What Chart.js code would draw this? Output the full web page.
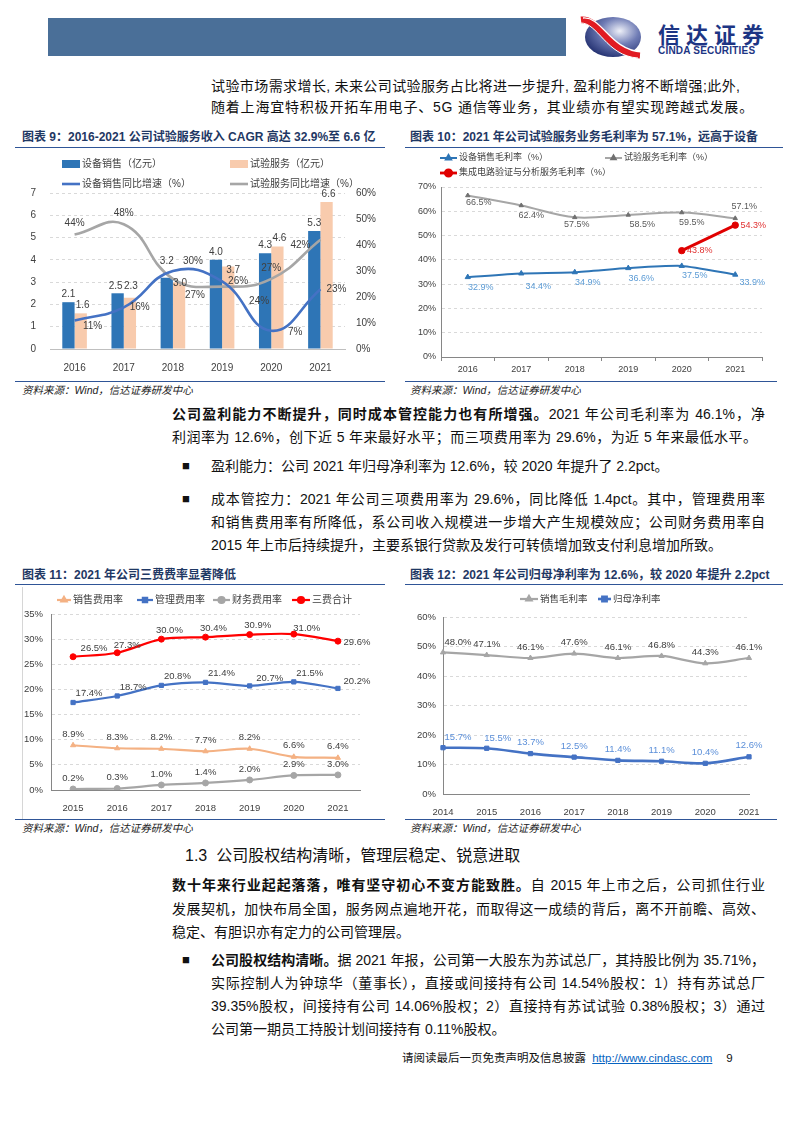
<!DOCTYPE html>
<html>
<head>
<meta charset="utf-8">
<script src="https://cdn.jsdelivr.net/npm/chart.js@4.4.1/dist/chart.umd.min.js"></script>
<style>
body{margin:0;background:#fff;}
#page{position:relative;width:794px;height:1123px;overflow:hidden;background:#fff;
  font-family:"Liberation Sans","Noto Sans CJK SC",sans-serif;color:#111;}
.abs{position:absolute;}
.ln{position:absolute;font-size:14px;height:20px;line-height:20px;white-space:nowrap;}
.j{white-space:normal;text-align:justify;text-align-last:justify;overflow:hidden;}
.bul{position:absolute;font-size:13px;line-height:20px;height:20px;}
.ttl{position:absolute;font-size:12px;font-weight:700;color:#1f3864;line-height:16px;white-space:nowrap;}
.rule{position:absolute;height:0;border-top:1.5px solid #2f5597;}
.src{position:absolute;font-size:10.5px;font-style:italic;color:#222;line-height:14px;white-space:nowrap;}
canvas{position:absolute;}
</style>
</head>
<body>
<div id="page">
  <!-- header -->
  <div class="abs" style="left:48px;top:18px;width:518px;height:38px;background:#4a6f98;"></div>
  <svg class="abs" style="left:580px;top:15px" width="64" height="44" viewBox="0 0 64 44">
    <defs>
      <radialGradient id="lg" cx="0.62" cy="0.35" r="0.75">
        <stop offset="0" stop-color="#eef0f8"/>
        <stop offset="0.45" stop-color="#6f7cb5"/>
        <stop offset="1" stop-color="#1a2768"/>
      </radialGradient>
    </defs>
    <ellipse cx="33" cy="22" rx="28" ry="20" fill="url(#lg)"/>
    <path d="M1 5 C20 3, 28 38, 60 40" stroke="#e11b22" stroke-width="7" fill="none"/>
    <path d="M3 3 C22 1, 30 35, 62 37" stroke="#fff" stroke-width="1.3" fill="none"/>
    <path d="M0 8 C18 7, 26 41, 58 43" stroke="#fff" stroke-width="1" fill="none"/>
  </svg>
  <div class="abs" style="left:658px;top:20px;font-size:22px;font-weight:700;letter-spacing:6px;color:#1d3584;font-family:'Noto Sans CJK SC';line-height:26px;">信达证券</div>
  <div class="abs" style="left:658px;top:45px;font-size:10px;font-weight:700;color:#1d3584;line-height:11px;letter-spacing:0.2px;">CINDA SECURITIES</div>

  <div class="ln j" style="left:211px;top:76px;width:529px;">试验市场需求增长, 未来公司试验服务占比将进一步提升, 盈利能力将不断增强;此外,</div>
  <div class="ln" style="left:211px;top:97px;letter-spacing:0.8px;">随着上海宜特积极开拓车用电子、5G 通信等业务，其业绩亦有望实现跨越式发展。</div>

  <!-- chart 9 / 10 titles -->
  <div class="ttl" style="left:22px;top:129px;">图表 9：2016-2021 公司试验服务收入 CAGR 高达 32.9%至 6.6 亿</div>
  <div class="rule" style="left:15px;top:147px;width:370px;"></div>
  <div class="ttl" style="left:410px;top:129px;">图表 10：2021 年公司试验服务业务毛利率为 57.1%，远高于设备</div>
  <div class="rule" style="left:405px;top:147px;width:378px;"></div>

  <canvas id="c9" width="362" height="228" style="left:20px;top:150px;"></canvas>
  <canvas id="c10" width="380" height="228" style="left:405px;top:150px;"></canvas>

  <div class="rule" style="left:15px;top:381px;width:370px;"></div>
  <div class="rule" style="left:405px;top:381px;width:372px;"></div>
  <div class="src" style="left:22px;top:383px;">资料来源：Wind，信达证券研发中心</div>
  <div class="src" style="left:410px;top:383px;">资料来源：Wind，信达证券研发中心</div>

  <!-- text block 1 -->
  <div class="ln j" style="left:172px;top:404px;width:593px;"><b>公司盈利能力不断提升，同时成本管控能力也有所增强。</b>2021 年公司毛利率为 46.1%，净</div>
  <div class="ln j" style="left:172px;top:427px;width:585px;">利润率为 12.6%，创下近 5 年来最好水平；而三项费用率为 29.6%，为近 5 年来最低水平。</div>
  <div class="bul" style="left:182px;top:456px;">■</div>
  <div class="ln" style="left:211px;top:456px;">盈利能力：公司 2021 年归母净利率为 12.6%，较 2020 年提升了 2.2pct。</div>
  <div class="bul" style="left:182px;top:489px;">■</div>
  <div class="ln j" style="left:211px;top:489px;width:554px;">成本管控力：2021 年公司三项费用率为 29.6%，同比降低 1.4pct。其中，管理费用率</div>
  <div class="ln j" style="left:211px;top:512px;width:554px;">和销售费用率有所降低，系公司收入规模进一步增大产生规模效应；公司财务费用率自</div>
  <div class="ln" style="left:211px;top:535px;">2015 年上市后持续提升，主要系银行贷款及发行可转债增加致支付利息增加所致。</div>

  <!-- chart 11 / 12 titles -->
  <div class="ttl" style="left:22px;top:567px;">图表 11：2021 年公司三费费率显著降低</div>
  <div class="rule" style="left:15px;top:584px;width:370px;"></div>
  <div class="ttl" style="left:410px;top:567px;">图表 12：2021 年公司归母净利率为 12.6%，较 2020 年提升 2.2pct</div>
  <div class="rule" style="left:405px;top:584px;width:378px;"></div>
  <div class="abs" style="left:22px;top:587px;width:0;height:232px;border-left:1px solid #d6d6d6;"></div>

  <canvas id="c11" width="362" height="228" style="left:20px;top:588px;"></canvas>
  <canvas id="c12" width="380" height="228" style="left:405px;top:588px;"></canvas>

  <div class="rule" style="left:15px;top:819px;width:370px;"></div>
  <div class="rule" style="left:405px;top:819px;width:372px;"></div>
  <div class="src" style="left:22px;top:821px;">资料来源：Wind，信达证券研发中心</div>
  <div class="src" style="left:410px;top:821px;">资料来源：Wind，信达证券研发中心</div>

  <!-- text block 2 -->
  <div class="abs" style="left:185px;top:845px;font-size:16px;line-height:22px;white-space:nowrap;">1.3&nbsp; 公司股权结构清晰，管理层稳定、锐意进取</div>
  <div class="ln j" style="left:172px;top:875px;width:593px;"><b>数十年来行业起起落落，唯有坚守初心不变方能致胜。</b>自 2015 年上市之后，公司抓住行业</div>
  <div class="ln j" style="left:172px;top:899px;width:593px;">发展契机，加快布局全国，服务网点遍地开花，而取得这一成绩的背后，离不开前瞻、高效、</div>
  <div class="ln" style="left:172px;top:922px;">稳定、有胆识亦有定力的公司管理层。</div>
  <div class="bul" style="left:182px;top:950px;">■</div>
  <div class="ln j" style="left:211px;top:950px;width:554px;"><b>公司股权结构清晰。</b>据 2021 年报，公司第一大股东为苏试总厂，其持股比例为 35.71%，</div>
  <div class="ln j" style="left:211px;top:973px;width:554px;">实际控制人为钟琼华（董事长），直接或间接持有公司 14.54%股权：1）持有苏试总厂</div>
  <div class="ln j" style="left:211px;top:996px;width:554px;">39.35%股权，间接持有公司 14.06%股权；2）直接持有苏试试验 0.38%股权；3）通过</div>
  <div class="ln" style="left:211px;top:1019px;">公司第一期员工持股计划间接持有 0.11%股权。</div>

  <!-- footer -->
  <div class="abs" style="left:402px;top:1050px;font-size:11.5px;line-height:16px;white-space:nowrap;">请阅读最后一页免责声明及信息披露 <span style="color:#0563c1;text-decoration:underline;margin-left:3px;">http://www.cindasc.com</span><span style="margin-left:14px;">9</span></div>
</div>

<script>
// 图表9 数据
const years9 = ['2016', '2017', '2018', '2019', '2020', '2021'];
const equipSales = [2.1, 2.5, 3.2, 4.0, 4.3, 5.3];      // 设备销售（亿元）
const testService = [1.6, 2.3, 3.0, 3.7, 4.6, 6.6];     // 试验服务（亿元）
const equipGrowth = [11, 16, 30, 26, 7, 23];            // 设备销售同比增速（%）
const testGrowth = [44, 48, 27, 24, 27, 42];            // 试验服务同比增速（%）

// 图表10 数据
const years10 = ['2016', '2017', '2018', '2019', '2020', '2021'];
const equipGross = [32.9, 34.4, 34.9, 36.6, 37.5, 33.9];
const testGross = [66.5, 62.4, 57.5, 58.5, 59.5, 57.1];
const icGross = [null, null, null, null, 43.8, 54.3];

// 图表11 数据
const years11 = ['2015', '2016', '2017', '2018', '2019', '2020', '2021'];
const salesRate = [8.9, 8.3, 8.2, 7.7, 8.2, 6.6, 6.4];
const adminRate = [17.4, 18.7, 20.8, 21.4, 20.7, 21.5, 20.2];
const finRate = [0.2, 0.3, 1.0, 1.4, 2.0, 2.9, 3.0];
const totalRate = [26.5, 27.3, 30.0, 30.4, 30.9, 31.0, 29.6];

// 图表12 数据
const years12 = ['2014', '2015', '2016', '2017', '2018', '2019', '2020', '2021'];
const grossMargin = [48.0, 47.1, 46.1, 47.6, 46.1, 46.8, 44.3, 46.1];
const netMargin = [15.7, 15.5, 13.7, 12.5, 11.4, 11.1, 10.4, 12.6];

// 坐标轴刻度 [min, max, step]
const axis9L = [0, 7, 1];
const axis9R = [0, 60, 10];
const axis10 = [0, 70, 10];
const axis11 = [0, 35, 5];
const axis12 = [0, 60, 10];

const FONT = "'Liberation Sans','Noto Sans CJK SC',sans-serif";
Chart.defaults.font.family = FONT;
Chart.defaults.color = '#404040';

const pct = v => v + '%';
const dashGrid = { color: c => c.tick.value === 0 ? 'rgba(0,0,0,0)' : '#d9d9d9', drawTicks: false };

//数据标签
const pointLabels = {
  id: 'pointLabels',
  afterDatasetsDraw(chart, args, opts) {
    const ctx = chart.ctx;
    chart.data.datasets.forEach((ds, i) => {
      const lb = ds.lbl;
      if (!lb) return;
      const meta = chart.getDatasetMeta(i);
      ctx.save();
      ctx.font = opts.font;
      ctx.fillStyle = lb.c;
      ctx.textAlign = 'center';
      ctx.textBaseline = 'middle';
      meta.data.forEach((el, j) => {
        const v = ds.data[j];
        if (v == null) return;
        const o = (lb.o && lb.o[j]) || lb.off;
        ctx.fillText(v.toFixed(lb.d) + (lb.s || ''), el.x + o[0], el.y + o[1]);
      });
      ctx.restore();
    });
  }
};

// 固定位置图例
const fixedLegend = {
  id: 'fixedLegend',
  afterDraw(chart, args, opts) {
    const ctx = chart.ctx;
    ctx.save();
    ctx.font = opts.font;
    ctx.textBaseline = 'middle';
    opts.items.forEach(([i, x, y, w]) => {
      const ds = chart.data.datasets[i];
      if (ds.type === 'bar') {
        ctx.fillStyle = ds.backgroundColor;
        ctx.fillRect(x, y - 4, w, 8);
      } else {
        ctx.strokeStyle = ds.borderColor;
        ctx.lineWidth = ds.borderWidth;
        ctx.beginPath();
        ctx.moveTo(x, y);
        ctx.lineTo(x + w, y);
        ctx.stroke();
        if (ds.pointRadius && Chart.helpers && Chart.helpers.drawPoint) {
          ctx.fillStyle = ds.pointBackgroundColor;
          ctx.strokeStyle = ds.pointBorderColor;
          Chart.helpers.drawPoint(ctx, { pointStyle: ds.pointStyle, radius: ds.pointRadius, rotation: 0, borderWidth: 1 }, x + w / 2, y);
        }
      }
      ctx.fillStyle = opts.color;
      ctx.fillText(ds.label, x + w + 2, y);
    });
    ctx.restore();
  }
};

function lineDs(label, data, color, extra) {
  return Object.assign({
    type: 'line', label: label, data: data,
    borderColor: color, borderWidth: 2.2, tension: 0.3,
    pointRadius: 3, pointStyle: 'circle',
    pointBackgroundColor: color, pointBorderColor: color, pointBorderWidth: 1,
    order: 0
  }, extra);
}

// ===== 图表9 =====
new Chart(document.getElementById('c9'), {
  data: {
    labels: years9,
    datasets: [
      { type: 'bar', label: '设备销售（亿元）', data: equipSales, backgroundColor: '#2e75b6', yAxisID: 'y', order: 2,
        categoryPercentage: 0.5, barPercentage: 1,
        lbl: { c: '#404040', d: 1, off: [0, -8], o: { 1: [-2, -7], 2: [0, -16] } } },
      { type: 'bar', label: '试验服务（亿元）', data: testService, backgroundColor: '#f8cbad', yAxisID: 'y', order: 2,
        categoryPercentage: 0.5, barPercentage: 1,
        lbl: { c: '#404040', d: 1, off: [2, -8], o: { 1: [1, -11], 2: [1, 1], 3: [5, 4] } } },
      lineDs('设备销售同比增速（%）', equipGrowth, '#4472c4', { yAxisID: 'y1', pointRadius: 0, tension: 0.45, borderWidth: 2.6,
        lbl: { c: '#404040', d: 0, s: '%', off: [16, 0], o: { 0: [18, 6], 2: [20, -10], 4: [24, 1] } } }),
      lineDs('试验服务同比增速（%）', testGrowth, '#a6a6a6', { yAxisID: 'y1', pointRadius: 0, tension: 0.45, borderWidth: 2.6,
        lbl: { c: '#404040', d: 0, s: '%', off: [0, -11], o: { 2: [22, 16], 3: [37, 15], 5: [-20, 5] } } })
    ]
  },
  options: {
    responsive: false, animation: false,
    layout: { padding: { top: 43, left: 0, right: 0, bottom: 0 } },
    plugins: {
      legend: { display: false }, tooltip: { enabled: false },
      pointLabels: { font: '10px ' + FONT },
      fixedLegend: { font: '10px ' + FONT, color: '#404040',
        items: [[0, 42, 14, 18], [1, 210, 14, 18], [2, 42, 34, 18], [3, 210, 34, 18]] }
    },
    scales: {
      x: { grid: { display: false }, border: { color: '#bfbfbf' },
        ticks: { padding: 5, font: { size: 10 } },
        afterFit: s => { s.height = 29; } },
      y: { position: 'left', min: axis9L[0], max: axis9L[1], grid: dashGrid, border: { display: false, dash: [3, 3] },
        ticks: { stepSize: axis9L[2], padding: 14, font: { size: 10 } },
        afterFit: s => { s.width = 30; } },
      y1: { position: 'right', min: axis9R[0], max: axis9R[1], grid: { display: false }, border: { display: false },
        ticks: { stepSize: axis9R[2], padding: 3, callback: pct, font: { size: 10 } },
        afterFit: s => { s.width = 37; } }
    }
  },
  plugins: [pointLabels, fixedLegend]
});

// ===== 图表10 =====
new Chart(document.getElementById('c10'), {
  type: 'line',
  data: {
    labels: years10,
    datasets: [
      lineDs('设备销售毛利率（%）', equipGross, '#2e75b6', { pointStyle: 'triangle', pointRadius: 3, borderWidth: 2, tension: 0.2,
        lbl: { c: '#5b9bd5', d: 1, s: '%', off: [13, 10], o: { 1: [17, 13], 5: [17, 8] } } }),
      lineDs('试验服务毛利率（%）', testGross, '#a6a6a6', { pointStyle: 'triangle', pointRadius: 2.5, borderWidth: 2, tension: 0.35,
        pointBackgroundColor: '#707070', pointBorderColor: '#707070',
        lbl: { c: '#595959', d: 1, s: '%', off: [10, 10], o: { 0: [11, 7], 2: [2, 7], 3: [14, 10], 5: [9, -12] } } }),
      lineDs('集成电路验证与分析服务毛利率（%）', icGross, '#e00000', { pointRadius: 3.2, borderWidth: 2.8, tension: 0,
        lbl: { c: '#e03030', d: 1, s: '%', off: [18, 0] } })
    ]
  },
  options: {
    responsive: false, animation: false,
    layout: { padding: { top: 37, right: 23, left: 0, bottom: 0 } },
    plugins: {
      legend: { display: false }, tooltip: { enabled: false },
      pointLabels: { font: '9px ' + FONT },
      fixedLegend: { font: '9px ' + FONT, color: '#404040',
        items: [[0, 35, 8, 17], [1, 200, 8, 17], [2, 35, 23, 17]] }
    },
    scales: {
      x: { offset: true,
        grid: { display: true, drawOnChartArea: false, drawTicks: true, tickLength: 4, color: '#868686', offset: true },
        border: { color: '#868686' },
        ticks: { padding: 3, font: { size: 9 } },
        afterFit: s => { s.height = 21; } },
      y: { min: axis10[0], max: axis10[1], grid: dashGrid, border: { color: '#868686', dash: [3, 3] },
        ticks: { stepSize: axis10[2], padding: 5, callback: pct, font: { size: 9 } },
        afterFit: s => { s.width = 36; } }
    }
  },
  plugins: [pointLabels, fixedLegend]
});

// ===== 图表11 =====
new Chart(document.getElementById('c11'), {
  type: 'line',
  data: {
    labels: years11,
    datasets: [
      lineDs('销售费用率', salesRate, '#f4b183', { pointStyle: 'triangle', pointRadius: 3,
        lbl: { c: '#404040', d: 1, s: '%', off: [0, -11] } }),
      lineDs('管理费用率', adminRate, '#4472c4', { pointStyle: 'rect', pointRadius: 3,
        lbl: { c: '#404040', d: 1, s: '%', off: [16, -9], o: { 4: [20, -8], 6: [19, -7] } } }),
      lineDs('财务费用率', finRate, '#a6a6a6', { pointStyle: 'circle', pointRadius: 3,
        lbl: { c: '#404040', d: 1, s: '%', off: [0, -11] } }),
      lineDs('三费合计', totalRate, '#ff0000', { pointStyle: 'circle', pointRadius: 3,
        lbl: { c: '#404040', d: 1, s: '%', off: [8, -9], o: { 0: [21, -8], 1: [10, -7], 5: [13, -6], 6: [19, 1] } } })
    ]
  },
  options: {
    responsive: false, animation: false,
    layout: { padding: { top: 26, right: 22, left: 0, bottom: 0 } },
    plugins: {
      legend: { display: false }, tooltip: { enabled: false },
      pointLabels: { font: '9.5px ' + FONT },
      fixedLegend: { font: '10px ' + FONT, color: '#404040',
        items: [[0, 37, 12, 14], [1, 117, 12, 16], [2, 193, 12, 17], [3, 272, 12, 18]] }
    },
    scales: {
      x: { offset: true, grid: { display: false }, border: { color: '#868686' },
        ticks: { padding: 5, font: { size: 9.5 } },
        afterFit: s => { s.height = 26; } },
      y: { min: axis11[0], max: axis11[1], grid: dashGrid, border: { color: '#868686', dash: [3, 3] },
        ticks: { stepSize: axis11[2], padding: 8, callback: pct, font: { size: 9.5 } },
        afterFit: s => { s.width = 31; } }
    }
  },
  plugins: [pointLabels, fixedLegend]
});

// ===== 图表12 =====
new Chart(document.getElementById('c12'), {
  type: 'line',
  data: {
    labels: years12,
    datasets: [
      lineDs('销售毛利率', grossMargin, '#a6a6a6', { pointStyle: 'triangle', pointRadius: 3,
        lbl: { c: '#404040', d: 1, s: '%', off: [0, -11], o: { 0: [15, -10] } } }),
      lineDs('归母净利率', netMargin, '#4472c4', { pointStyle: 'rect', pointRadius: 3, borderWidth: 2.6,
        lbl: { c: '#5b8fd9', d: 1, s: '%', off: [0, -11], o: { 0: [15, -10], 1: [11, -10] } } })
    ]
  },
  options: {
    responsive: false, animation: false,
    layout: { padding: { top: 29, right: 36, left: 0, bottom: 0 } },
    plugins: {
      legend: { display: false }, tooltip: { enabled: false },
      pointLabels: { font: '9.5px ' + FONT },
      fixedLegend: { font: '9.5px ' + FONT, color: '#404040',
        items: [[0, 115, 11, 18], [1, 193, 11, 13]] }
    },
    scales: {
      x: { offset: false, grid: { display: false }, border: { color: '#868686' },
        ticks: { padding: 5, font: { size: 9.5 } },
        afterFit: s => { s.height = 22; } },
      y: { min: axis12[0], max: axis12[1], grid: dashGrid, border: { color: '#868686', dash: [3, 3] },
        ticks: { stepSize: axis12[2], padding: 7, callback: pct, font: { size: 9.5 } },
        afterFit: s => { s.width = 38; } }
    }
  },
  plugins: [pointLabels, fixedLegend]
});
</script>
</body>
</html>
